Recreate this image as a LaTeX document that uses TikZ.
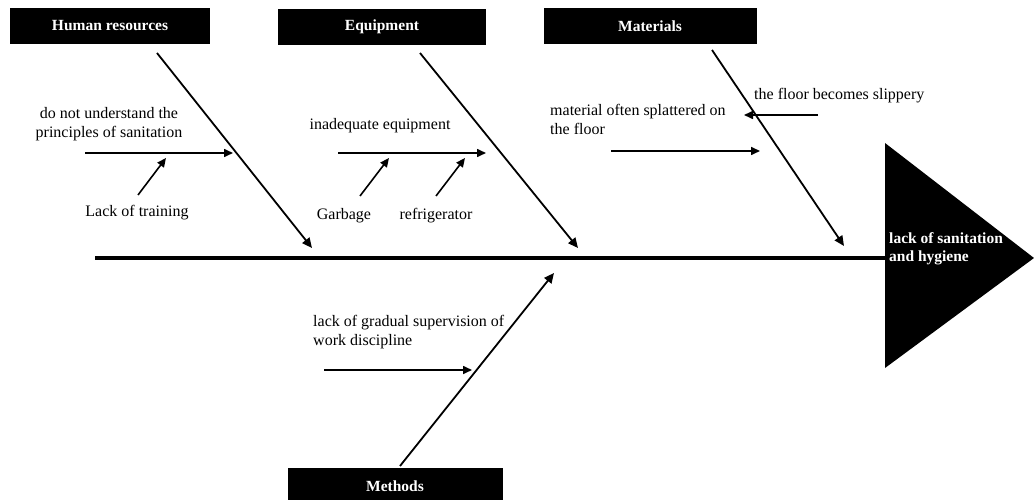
\documentclass[tikz,border=0pt]{standalone}
\usepackage{fontspec}
\setmainfont{Liberation Serif}
\usetikzlibrary{arrows.meta}

\begin{document}
\begin{tikzpicture}[
    x=1pt, y=-1pt,
    catbox/.style={rectangle, fill=black, text=white, font=\fontsize{15.5}{18}\selectfont\bfseries, minimum width=200pt, minimum height=36pt, inner sep=0pt},
    cause/.style={font=\fontsize{16}{19}\selectfont, inner sep=0pt, align=center},
    bone/.style={-{Triangle[length=10pt, width=9pt]}, line width=1.8pt},
    sub/.style={-{Triangle[length=9pt, width=8pt]}, line width=1.6pt}
]
\useasboundingbox (0,0) rectangle (1034,500);

% Category boxes
\node[catbox] (hr) at (110,26) {Human resources};
\node[catbox, minimum width=208pt] (eq) at (382,27) {Equipment};
\node[catbox, minimum width=213pt] (mat) at (650,26) {Materials};
\node[catbox, minimum width=215pt] (meth) at (395,486) {Methods};

% Head
\coordinate (spl) at (95,258);
\coordinate (headl) at (885,258);
\fill (885,143) -- (1034,258) -- (885,368) -- cycle;
\node[font=\fontsize{15.5}{18}\selectfont\bfseries, text=white, align=left, anchor=west, inner sep=0pt] (effect) at (889,249) {lack of sanitation\\and hygiene};

% Spine
\draw[line width=4.5pt] (spl) -- (headl);

% Bones
\coordinate (hrs) at (157,53);
\coordinate (hre) at (312,248);
\coordinate (eqs) at (420,53);
\coordinate (eqe) at (578,248);
\coordinate (mats) at (712,50);
\coordinate (mate) at (844,246);
\coordinate (meths) at (400,466);
\coordinate (methe) at (554,273);
\draw[bone] (hrs) -- (hre);
\draw[bone] (eqs) -- (eqe);
\draw[bone] (mats) -- (mate);
\draw[bone] (meths) -- (methe);

% Human resources causes
\node[cause] (c1) at (109,124) {do not understand the\\principles of sanitation};
\node[cause] (c2) at (137,213) {Lack of training};
\coordinate (c1s) at (85,153);
\coordinate (c1e) at (233,153);
\coordinate (c2s) at (138,195);
\coordinate (c2e) at (166,158);
\draw[sub] (c1s) -- (c1e);
\draw[sub] (c2s) -- (c2e);

% Equipment causes
\node[cause] (c3) at (380,126) {inadequate equipment};
\node[cause] (c4) at (344,216) {Garbage};
\node[cause] (c5) at (436,216) {refrigerator};
\coordinate (c3s) at (338,153);
\coordinate (c3e) at (486,153);
\coordinate (c4s) at (360,196);
\coordinate (c4e) at (389,158);
\coordinate (c5s) at (436,196);
\coordinate (c5e) at (465,158);
\draw[sub] (c3s) -- (c3e);
\draw[sub] (c4s) -- (c4e);
\draw[sub] (c5s) -- (c5e);

% Materials causes
\node[cause, align=left, anchor=west] (c6) at (550,119) {material often splattered on\\the floor};
\node[cause, anchor=west] (c7) at (754,96) {the floor becomes slippery};
\coordinate (c6s) at (611,151);
\coordinate (c6e) at (760,151);
\coordinate (c7s) at (818,115);
\coordinate (c7e) at (744,115);
\draw[sub] (c6s) -- (c6e);
\draw[sub] (c7s) -- (c7e);

% Methods causes
\node[cause, align=left, anchor=west] (c8) at (313,332) {lack of gradual supervision of\\work discipline};
\coordinate (c8s) at (324,370);
\coordinate (c8e) at (472,370);
\draw[sub] (c8s) -- (c8e);

\end{tikzpicture}
\end{document}
